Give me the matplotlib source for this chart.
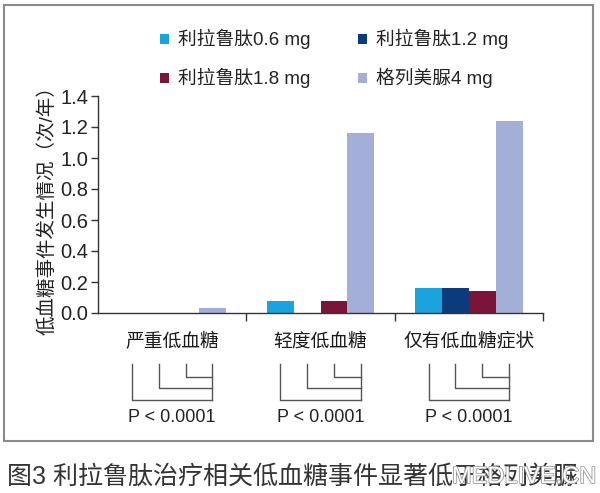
import numpy as np
import matplotlib
matplotlib.use("Agg")
import matplotlib.pyplot as plt
from matplotlib import transforms
from matplotlib.patches import Rectangle
import matplotlib.patheffects as pe

plt.rcParams['font.family'] = ['Liberation Sans', 'Noto Sans CJK SC', 'DejaVu Sans']

# data
categories = ['严重低血糖', '轻度低血糖', '仅有低血糖症状']
series_names = ['利拉鲁肽0.6 mg', '利拉鲁肽1.2 mg', '利拉鲁肽1.8 mg', '格列美脲4 mg']
lira_06 = [0.0, 0.08, 0.164]
lira_12 = [0.0, 0.0, 0.164]
lira_18 = [0.0, 0.08, 0.14]
glim_4 = [0.03, 1.16, 1.24]
p_labels = ['P < 0.0001', 'P < 0.0001', 'P < 0.0001']
y_ticks = [0.0, 0.2, 0.4, 0.6, 0.8, 1.0, 1.2, 1.4]

colors = ['#1AA3DC', '#0B3B7A', '#7B1439', '#A4AFD8']
W, H = 600, 493

fig = plt.figure(figsize=(6.0, 4.93), dpi=100)
ax = fig.add_axes([98 / W, 1 - 313 / H, 445 / W, 217 / H])

x = np.arange(len(categories))
bw = 0.181
all_series = [lira_06, lira_12, lira_18, glim_4]
offsets = (np.arange(4) - 1.5) * bw
for vals, off, c in zip(all_series, offsets, colors):
    ax.bar(x + off, vals, width=bw, color=c, linewidth=0)

ax.set_xlim(-0.5, 2.5)
ax.set_ylim(0, 1.4)
ax.set_yticks(y_ticks)
ax.set_yticklabels([f'{v:.1f}' for v in y_ticks], fontsize=14.5, color='#222222')
ax.set_xticks([0.5, 1.5, 2.5])
ax.set_xticklabels([])
ax.tick_params(axis='y', length=5, width=1, color='#333333', pad=2)
ax.tick_params(axis='x', length=6, width=1, color='#333333')
for s in ['top', 'right']:
    ax.spines[s].set_visible(False)
for s in ['left', 'bottom']:
    ax.spines[s].set_color('#333333')
    ax.spines[s].set_linewidth(1)

fig.text(47 / W, 1 - 206 / H, '低血糖事件发生情况（次/年）', rotation=90,
         ha='center', va='center', fontsize=14, color='#222222')

# category labels, brackets and p values
trans = transforms.blended_transform_factory(ax.transData, fig.transFigure)
top_y = 1 - 364 / H
levels = [1 - 400 / H, 1 - 388 / H, 1 - 377 / H]
for g, cat in enumerate(categories):
    ax.text(g, 1 - 342 / H, cat, transform=trans, ha='center', va='center',
            fontsize=13.5, color='#1a1a1a', fontweight='medium')
    xg = g + offsets[3]
    ax.plot([xg, xg], [top_y, levels[0]], transform=trans, color='#555555',
            lw=1, clip_on=False)
    for i in range(3):
        xi = g + offsets[i]
        ax.plot([xi, xi, xg], [top_y, levels[i], levels[i]], transform=trans,
                color='#555555', lw=1, clip_on=False)
    ax.text(g, 1 - 418 / H, p_labels[g], transform=trans, ha='center',
            va='center', fontsize=13, color='#222222')

# legend
leg_pos = [(160, 39), (358, 39), (160, 78), (358, 78)]
for (lx, ly), name, c in zip(leg_pos, series_names, colors):
    fig.add_artist(Rectangle((lx / W, 1 - (ly + 5) / H), 9 / W, 10 / H,
                             transform=fig.transFigure, color=c, lw=0))
    fig.text((lx + 18) / W, 1 - ly / H, name, ha='left', va='center',
             fontsize=13.5, color='#222222')

# outer frame
fig.add_artist(Rectangle((4 / W, 1 - 441 / H), 589 / W, 436 / H,
                         transform=fig.transFigure, fill=False,
                         edgecolor='#8a8a8a', lw=1.5))

fig.text(7 / W, 1 - 477 / H, '图3 利拉鲁肽治疗相关低血糖事件显著低于格列美脲',
         ha='left', va='center', fontsize=18, color='#333333')
fig.text(452 / W, 1 - 477 / H, 'MEDLIVE.CN', ha='left', va='center',
         fontsize=17, color='white',
         path_effects=[pe.withStroke(linewidth=1.2, foreground='#999999')])

fig.savefig('out.png', dpi=100)
